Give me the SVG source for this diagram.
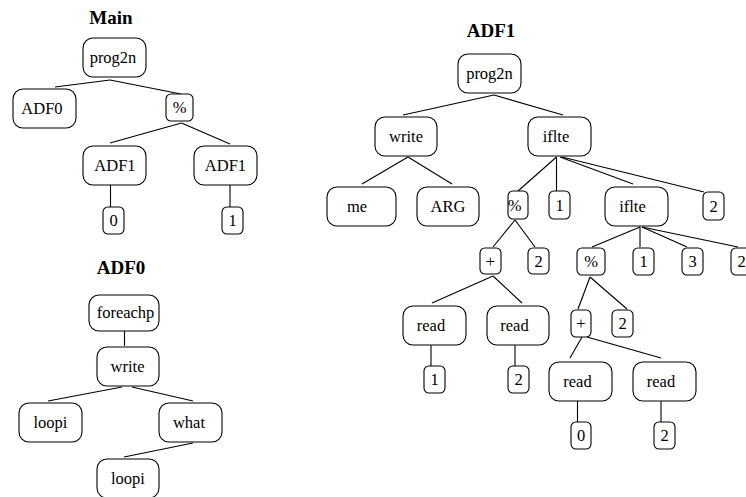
<svg xmlns="http://www.w3.org/2000/svg" width="746" height="497" viewBox="0 0 746 497">
<style>
rect{fill:#fff;stroke:#000;stroke-width:1.1}
rect.b{rx:10px;ry:10px}
rect.s{rx:5px;ry:5px}
text{font-family:"Liberation Serif","Times New Roman",serif;font-size:16.5px;text-anchor:middle;fill:#000}
text.t{font-weight:bold;font-size:19px}
#connectors line{stroke:#000;stroke-width:1.1}
</style>
<rect x="0" y="0" width="746" height="497" style="fill:#fff;stroke:none"/>
<g id="titles">
<text class="t" x="111" y="24">Main</text>
<text class="t" x="121" y="274">ADF0</text>
<text class="t" x="491" y="37">ADF1</text>
</g>
<g id="connectors">
<line x1="110" y1="80" x2="55" y2="87"/>
<line x1="110" y1="80" x2="181" y2="94"/>
<line x1="181.5" y1="123" x2="110" y2="143"/>
<line x1="181.5" y1="123" x2="230" y2="144"/>
<line x1="110.5" y1="185" x2="110.5" y2="207"/>
<line x1="230" y1="185" x2="230" y2="207"/>
<line x1="124.5" y1="331" x2="124.5" y2="346"/>
<line x1="122" y1="387" x2="48" y2="401"/>
<line x1="132" y1="387" x2="193" y2="401"/>
<line x1="193" y1="443" x2="124" y2="457"/>
<line x1="494" y1="95" x2="403" y2="115"/>
<line x1="494" y1="95" x2="563" y2="115"/>
<line x1="408" y1="157" x2="362" y2="184"/>
<line x1="408" y1="157" x2="452" y2="184"/>
<line x1="556.5" y1="157" x2="518" y2="191"/>
<line x1="556.5" y1="157" x2="556.5" y2="191"/>
<line x1="560" y1="157" x2="633" y2="184"/>
<line x1="562" y1="157" x2="704" y2="192"/>
<line x1="515" y1="220" x2="493" y2="247"/>
<line x1="515" y1="220" x2="535" y2="247"/>
<line x1="640" y1="227" x2="592" y2="247"/>
<line x1="640" y1="227" x2="640" y2="247"/>
<line x1="642" y1="227" x2="687" y2="247"/>
<line x1="642" y1="227" x2="738" y2="247"/>
<line x1="493" y1="276" x2="432" y2="303"/>
<line x1="493" y1="276" x2="522" y2="303"/>
<line x1="590" y1="277" x2="578" y2="309"/>
<line x1="590" y1="277" x2="627" y2="309"/>
<line x1="582" y1="337" x2="570" y2="358"/>
<line x1="587" y1="337" x2="661" y2="358"/>
<line x1="431" y1="345" x2="431" y2="366"/>
<line x1="515" y1="345" x2="515" y2="366"/>
<line x1="577.5" y1="401" x2="577.5" y2="422"/>
<line x1="661" y1="401" x2="661" y2="422"/>
</g>
<g id="main_prog2n"><rect class="b" x="83" y="38" width="63" height="39"/><text x="113" y="63">prog2n</text></g>
<g id="main_adf0"><rect class="b" x="13" y="89" width="63" height="39"/><text x="42" y="114">ADF0</text></g>
<g id="main_mod"><rect class="s" x="166" y="94" width="27" height="27"/><text x="179.5" y="113">%</text></g>
<g id="main_adf1a"><rect class="b" x="83" y="146" width="63" height="39"/><text x="115" y="171">ADF1</text></g>
<g id="main_adf1b"><rect class="b" x="194" y="146" width="63" height="39"/><text x="225.5" y="171">ADF1</text></g>
<g id="main_0"><rect class="s" x="103" y="207" width="21" height="27"/><text x="113.5" y="226">0</text></g>
<g id="main_1"><rect class="s" x="222" y="207" width="21" height="27"/><text x="232.5" y="226">1</text></g>
<g id="adf0_foreachp"><rect class="b" x="89" y="295" width="70" height="36"/><text x="125.5" y="318">foreachp</text></g>
<g id="adf0_write"><rect class="b" x="97" y="347" width="62" height="39"/><text x="127.5" y="372">write</text></g>
<g id="adf0_loopi1"><rect class="b" x="19" y="403" width="63" height="39"/><text x="50.5" y="428">loopi</text></g>
<g id="adf0_what"><rect class="b" x="159" y="403" width="63" height="39"/><text x="189" y="428">what</text></g>
<g id="adf0_loopi2"><rect class="b" x="97" y="459" width="62" height="39"/><text x="128" y="484">loopi</text></g>
<g id="adf1_prog2n"><rect class="b" x="458" y="54" width="63" height="39"/><text x="489.5" y="79">prog2n</text></g>
<g id="adf1_write"><rect class="b" x="375" y="117" width="62" height="39"/><text x="406" y="142">write</text></g>
<g id="adf1_iflte"><rect class="b" x="528" y="117" width="63" height="39"/><text x="556" y="142">iflte</text></g>
<g id="adf1_me"><rect class="b" x="327" y="187" width="69" height="39"/><text x="357" y="212">me</text></g>
<g id="adf1_arg"><rect class="b" x="417" y="187" width="62" height="39"/><text x="448" y="212">ARG</text></g>
<g id="adf1_mod1"><rect class="s" x="508" y="191" width="20" height="28"/><text x="514.5" y="210.5">%</text></g>
<g id="adf1_c1a"><rect class="s" x="549" y="191" width="21" height="28"/><text x="559.5" y="210.5">1</text></g>
<g id="adf1_iflte2"><rect class="b" x="605" y="187" width="63" height="39"/><text x="632.5" y="212">iflte</text></g>
<g id="adf1_c2a"><rect class="s" x="703" y="192" width="21" height="28"/><text x="713.5" y="211.5">2</text></g>
<g id="adf1_plus1"><rect class="s" x="480" y="248" width="21" height="26"/><text x="490.5" y="266.5">+</text></g>
<g id="adf1_c2b"><rect class="s" x="528" y="248" width="21" height="26"/><text x="538.5" y="266.5">2</text></g>
<g id="adf1_mod2"><rect class="s" x="577" y="248" width="28" height="27"/><text x="591" y="267">%</text></g>
<g id="adf1_c1b"><rect class="s" x="633" y="248" width="21" height="27"/><text x="643.5" y="267">1</text></g>
<g id="adf1_c3"><rect class="s" x="682" y="248" width="21" height="27"/><text x="692.5" y="267">3</text></g>
<g id="adf1_c2c"><rect class="s" x="731" y="248" width="21" height="27"/><text x="741.5" y="267">2</text></g>
<g id="adf1_read1"><rect class="b" x="403" y="306" width="63" height="39"/><text x="431" y="331">read</text></g>
<g id="adf1_read2"><rect class="b" x="487" y="306" width="62" height="39"/><text x="514.5" y="331">read</text></g>
<g id="adf1_c1c"><rect class="s" x="424" y="366" width="21" height="27"/><text x="434.5" y="385">1</text></g>
<g id="adf1_c2d"><rect class="s" x="508" y="366" width="21" height="27"/><text x="518.5" y="385">2</text></g>
<g id="adf1_plus2"><rect class="s" x="571" y="310" width="20" height="27"/><text x="581" y="329">+</text></g>
<g id="adf1_c2e"><rect class="s" x="612" y="310" width="21" height="27"/><text x="622.5" y="329">2</text></g>
<g id="adf1_read3"><rect class="b" x="549" y="362" width="63" height="39"/><text x="577.5" y="387">read</text></g>
<g id="adf1_read4"><rect class="b" x="633" y="362" width="63" height="39"/><text x="661" y="387">read</text></g>
<g id="adf1_c0"><rect class="s" x="571" y="422" width="20" height="27"/><text x="581" y="441">0</text></g>
<g id="adf1_c2f"><rect class="s" x="654" y="422" width="21" height="27"/><text x="664.5" y="441">2</text></g>
</svg>
